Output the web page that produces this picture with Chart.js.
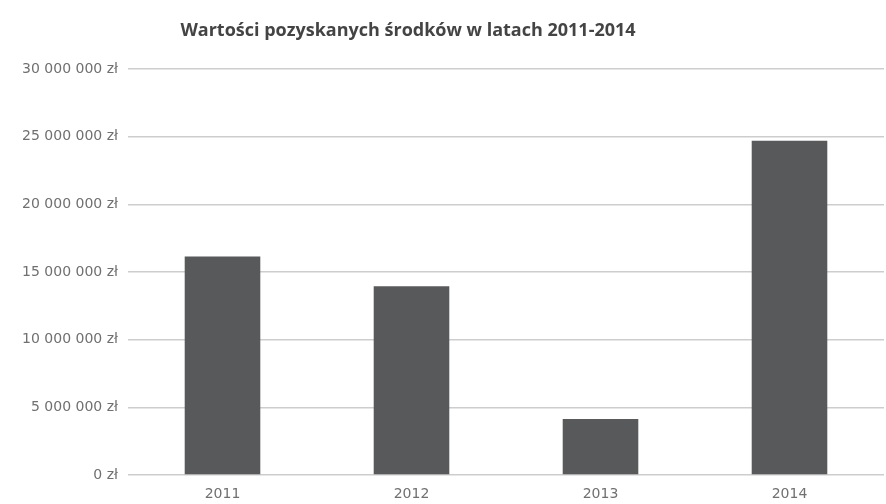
<!DOCTYPE html>
<html>
<head>
<meta charset="utf-8">
<style>
	body {
		margin: 0;
		background: #fff;
	}
	.wrapper {
		position: relative;
		width: 886px;
		height: 504px;
	}
	.title {
		position: absolute;
		top: 17px;
		left: 0;
		width: 816px;
		text-align: center;
		font-family: "Open Sans", sans-serif;
		font-weight: bold;
		font-size: 18px;
		color: #444;
	}
</style>
</head>
<body>
<div class="wrapper">
	<div class="title">Wartości pozyskanych środków w latach 2011-2014</div>
	<canvas id="myChart"></canvas>
</div>

<script src="https://cdn.jsdelivr.net/npm/chart.js"></script>
<script>
	var labels = ['2011', '2012', '2013', '2014'];
	var values = [16150000, 13950000, 4130000, 24700000];
	var yMax = 30000000;
	var yStep = 5000000;

	function fmt(v) {
		return v.toString().replace(/\B(?=(\d{3})+(?!\d))/g, ' ') + ' zł';
	}

	new Chart(document.getElementById('myChart'), {
		type: 'bar',
		data: {
			labels: labels,
			datasets: [{
				data: values,
				backgroundColor: '#58595b',
				categoryPercentage: 1,
				barPercentage: 0.4
			}]
		},
		options: {
			responsive: true,
			maintainAspectRatio: false,
			animation: false,
			layout: {
				padding: { top: 69, right: 2, left: 0, bottom: 0 }
			},
			plugins: {
				legend: { display: false },
				tooltip: { enabled: false }
			},
			scales: {
				x: {
					afterFit: function (s) { s.height = 29; },
					grid: { display: false },
					border: { display: false },
					ticks: {
						color: '#707070',
						padding: 3,
						font: { family: 'DejaVu Sans', size: 14 }
					}
				},
				y: {
					min: 0,
					max: yMax,
					afterFit: function (s) { s.width = 128; },
					grid: { color: '#cdcdcd', lineWidth: 1.5, drawTicks: false },
					border: { display: false },
					ticks: {
						stepSize: yStep,
						color: '#707070',
						padding: 10,
						font: { family: 'DejaVu Sans', size: 14 },
						callback: function (v) { return fmt(v); }
					}
				}
			}
		}
	});
</script>
</body>
</html>
